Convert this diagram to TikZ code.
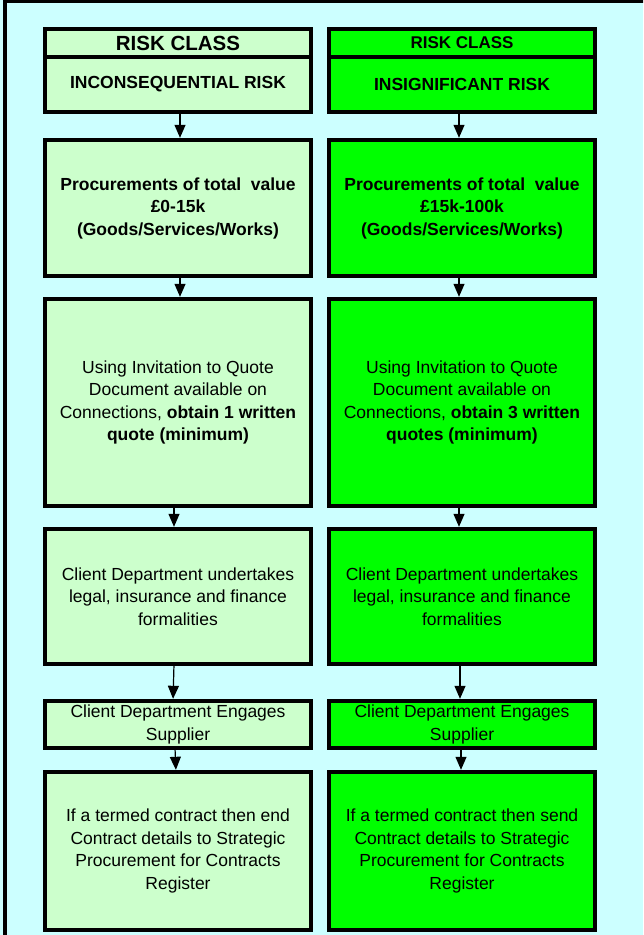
\documentclass[tikz,border=0pt]{standalone}
\usepackage{fontspec}
\setmainfont{Liberation Sans}
\usetikzlibrary{positioning,arrows.meta}

\definecolor{paleback}{HTML}{CCFFFF}
\definecolor{palegreen}{HTML}{CCFFCC}
\definecolor{brightgreen}{HTML}{00FF00}

\begin{document}
\begin{tikzpicture}[x=1pt,y=1pt]
            \tikzstyle{box} = [rectangle, draw, line width=4.5pt, minimum width=266pt, inner sep=0pt, outer sep=0pt, text centered, align=center, font=\fontsize{17.5}{22.5}\selectfont]
            \tikzstyle{heavy} = [font=\fontsize{17.5}{22.5}\selectfont\bfseries]
            \tikzstyle{lowrisk} = [box, fill=palegreen]
            \tikzstyle{midrisk} = [box, fill=brightgreen]
            \tikzstyle{arrow} = [line width=1.2pt,->,>={Triangle[width=11pt,length=13pt]}, shorten >=2.2pt, shorten <=2.2pt]

            \useasboundingbox (0,0) rectangle (643,-935);
            \clip (0,0) rectangle (643,-935);
            \fill[paleback] (0,0) rectangle (643,-935);
            \draw[line width=4pt] (700,-0.7) -- (5.3,-0.7) -- (5.3,-1000);

            % left column
            \node (clsL) [lowrisk, minimum height=28pt, anchor=north west, font=\fontsize{20.5}{24}\selectfont\bfseries] at (45,-29) {RISK CLASS};
            \node (riskL) [lowrisk, heavy, minimum height=55pt, below=0pt of clsL] {INCONSEQUENTIAL RISK};
            \node (procL) [lowrisk, heavy, minimum height=136pt, below=28pt of riskL] {Procurements of total\ \ value\\£0-15k\\(Goods/Services/Works)};
            \node (quoteL) [lowrisk, minimum height=207pt, below=23pt of procL] {Using Invitation to Quote\\Document available on\\Connections, \textbf{obtain 1 written}\\\textbf{quote (minimum)}};
            \node (legalL) [lowrisk, minimum height=135pt, below=23pt of quoteL] {Client Department undertakes\\legal, insurance and finance\\formalities};
            \node (engageL) [lowrisk, minimum height=47pt, below=37pt of legalL] {Client Department Engages\\Supplier};
            \node (regL) [lowrisk, minimum height=158pt, below=24pt of engageL] {If a termed contract then end\\Contract details to Strategic\\Procurement for Contracts\\Register};

            % right column
            \node (clsR) [midrisk, minimum height=28pt, right=18pt of clsL, font=\fontsize{17}{20}\selectfont\bfseries] {RISK CLASS};
            \node (riskR) [midrisk, heavy, minimum height=55pt, below=0pt of clsR] {INSIGNIFICANT RISK};
            \node (procR) [midrisk, heavy, minimum height=136pt, below=28pt of riskR] {Procurements of total\ \ value\\£15k-100k\\(Goods/Services/Works)};
            \node (quoteR) [midrisk, minimum height=207pt, below=23pt of procR] {Using Invitation to Quote\\Document available on\\Connections, \textbf{obtain 3 written}\\\textbf{quotes (minimum)}};
            \node (legalR) [midrisk, minimum height=135pt, below=23pt of quoteR] {Client Department undertakes\\legal, insurance and finance\\formalities};
            \node (engageR) [midrisk, minimum height=47pt, below=37pt of legalR] {Client Department Engages\\Supplier};
            \node (regR) [midrisk, minimum height=158pt, below=24pt of engageR] {If a termed contract then send\\Contract details to Strategic\\Procurement for Contracts\\Register};

            \draw [arrow] ([xshift=2pt]riskL.south) -- ([xshift=2pt]procL.north);
            \draw [arrow] ([xshift=2pt]procL.south) -- ([xshift=2pt]quoteL.north);
            \draw [arrow] ([xshift=-4pt]quoteL.south) -- ([xshift=-4pt]quoteL.south |- legalL.north);
            \draw [arrow] ([xshift=-4pt]legalL.south) -- ([xshift=-5pt]engageL.north);
            \draw [arrow] ([xshift=-3pt]engageL.south) -- ([xshift=-2pt]regL.north);

            \draw [arrow] ([xshift=-3pt]riskR.south) -- ([xshift=-3pt]procR.north);
            \draw [arrow] ([xshift=-3pt]procR.south) -- ([xshift=-3pt]quoteR.north);
            \draw [arrow] ([xshift=-3pt]quoteR.south) -- ([xshift=-3pt]legalR.north);
            \draw [arrow] ([xshift=-2pt]legalR.south) -- ([xshift=-2pt]engageR.north);
            \draw [arrow] ([xshift=-1pt]engageR.south) -- ([xshift=-1pt]regR.north);
        \end{tikzpicture}
\end{document}
